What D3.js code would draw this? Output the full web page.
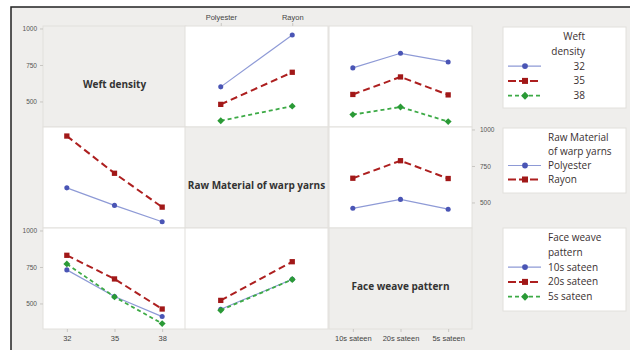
<!DOCTYPE html>
<html>
<head>
<meta charset="utf-8">
<style>
body { margin: 0; background: #fff; }
svg { display: block; font-family: "Open Sans", "Noto Sans", sans-serif; }
.tick-lbl { font-size: 6.5px; fill: #555; }
.cat-lbl { font-size: 7.5px; fill: #444; }
.diag-lbl { font-size: 10px; font-weight: bold; fill: #333; }
.leg-txt { font-size: 10px; fill: #3a3030; }
</style>
</head>
<body>
<svg width="630" height="350"></svg>
<script src="https://d3js.org/d3.v7.min.js"></script>
<script>

// factor levels
var weft = ["32", "35", "38"];
var raw = ["Polyester", "Rayon"];
var weave = ["10s sateen", "20s sateen", "5s sateen"];

// cell means
// weft density x raw material
var polyesterByWeft = [600, 480, 368];
var rayonByWeft = [955, 700, 468];
// weft density x face weave
var sateen10ByWeft = [730, 548, 410];
var sateen20ByWeft = [830, 668, 462];
var sateen5ByWeft = [771, 545, 362];
// raw material x face weave
var polyesterByWeave = [460, 521, 454];
var rayonByWeave = [666, 786, 664];

var yTicks = [500, 750, 1000];

var factors = [
  { name: "Weft density", levels: weft, legend: ["Weft", "density"], alignRight: true },
  { name: "Raw Material of warp yarns", levels: raw, legend: ["Raw Material", "of warp yarns"] },
  { name: "Face weave pattern", levels: weave, legend: ["Face weave", "pattern"] }
];

var weftRaw = weft.map(function(d, i) { return [polyesterByWeft[i], rayonByWeft[i]]; });
var weftWeave = weft.map(function(d, i) { return [sateen10ByWeft[i], sateen20ByWeft[i], sateen5ByWeft[i]]; });
var rawWeave = [polyesterByWeave, rayonByWeave];

function cellMean(fi, a, fj, b) {
  if (fi == 0 && fj == 1) return weftRaw[a][b];
  if (fi == 1 && fj == 0) return weftRaw[b][a];
  if (fi == 0 && fj == 2) return weftWeave[a][b];
  if (fi == 2 && fj == 0) return weftWeave[b][a];
  if (fi == 1 && fj == 2) return rawWeave[a][b];
  return rawWeave[b][a];
}

var styles = [
  { line: "#8e9ad6", width: 1.2, dash: null, fill: "#4a55b5", shape: d3.symbolCircle, size: 20, rot: 0 },
  { line: "#ad1f1f", width: 2, dash: "7,4", fill: "#a11818", shape: d3.symbolSquare, size: 28, rot: 0 },
  { line: "#3daa46", width: 1.8, dash: "4,3", fill: "#2a9a36", shape: d3.symbolSquare, size: 24, rot: 45 }
];

var svg = d3.select("svg");

var colX = [43, 185, 329], colW = 143;
var rowY = [26, 127, 228], rowH = 101;

// frame and background
svg.append("rect")
    .attr("x", 11).attr("y", 7)
    .attr("width", 640).attr("height", 360)
    .attr("fill", "#efeeec")
    .attr("stroke", "#222")
    .attr("stroke-width", 1.5);

factors.forEach(function(fr, i) {
  var y = d3.scaleLinear().domain([325, 1017]).range([rowY[i] + rowH, rowY[i]]);

  factors.forEach(function(fc, j) {
    var x = d3.scalePoint().domain(fc.levels).range([colX[j], colX[j] + colW]).padding(0.5);
    var g = svg.append("g");

    g.append("rect")
        .attr("x", colX[j]).attr("y", rowY[i])
        .attr("width", colW).attr("height", rowH)
        .attr("fill", i == j ? "#efeeec" : "#fff")
        .attr("stroke", "#e2e0dc")
        .attr("stroke-width", 1);

    if (i == j) {
      g.append("text")
          .attr("class", "diag-lbl")
          .attr("x", colX[j] + colW / 2)
          .attr("y", rowY[i] + rowH / 2 + 11)
          .attr("text-anchor", "middle")
          .text(fr.name);
      return;
    }

    var line = d3.line()
        .x(function(d) { return x(d.level); })
        .y(function(d) { return y(d.value); });

    fr.levels.forEach(function(lv, a) {
      var st = styles[a];
      var pts = fc.levels.map(function(cl, b) {
        return { level: cl, value: cellMean(i, a, j, b) };
      });
      g.append("path")
          .datum(pts)
          .attr("d", line)
          .attr("fill", "none")
          .attr("stroke", st.line)
          .attr("stroke-width", st.width)
          .attr("stroke-dasharray", st.dash);
      g.selectAll(null)
          .data(pts)
          .enter().append("path")
          .attr("transform", function(d) { return "translate(" + x(d.level) + "," + y(d.value) + ") rotate(" + st.rot + ")"; })
          .attr("d", d3.symbol().type(st.shape).size(st.size))
          .attr("fill", st.fill);
    });
  });

  // y axes: left for rows 1 and 3, right for row 2
  var ax;
  if (i == 1) {
    ax = svg.append("g").attr("transform", "translate(" + (colX[2] + colW) + ",0)")
        .call(d3.axisRight(y).tickValues(yTicks).tickFormat(d3.format("d")).tickSize(3).tickPadding(5));
  } else {
    ax = svg.append("g").attr("transform", "translate(" + colX[0] + ",0)")
        .call(d3.axisLeft(y).tickValues(yTicks).tickFormat(d3.format("d")).tickSize(3).tickPadding(3));
  }
  ax.select(".domain").remove();
  ax.selectAll("line").attr("stroke", "#c8c6c2");
  ax.selectAll("text").attr("class", "tick-lbl").attr("font-family", null).attr("font-size", null).attr("fill", null);
});

// x axes: top for middle column, bottom for the others
factors.forEach(function(fc, j) {
  var x = d3.scalePoint().domain(fc.levels).range([colX[j], colX[j] + colW]).padding(0.5);
  var ax;
  if (j == 1) {
    ax = svg.append("g").attr("transform", "translate(0," + rowY[0] + ")").call(d3.axisTop(x).tickSize(3).tickPadding(3));
  } else {
    ax = svg.append("g").attr("transform", "translate(0," + (rowY[2] + rowH) + ")").call(d3.axisBottom(x).tickSize(3).tickPadding(4));
  }
  ax.select(".domain").remove();
  ax.selectAll("line").attr("stroke", "#c8c6c2");
  ax.selectAll("text").attr("class", "cat-lbl").attr("font-family", null).attr("font-size", null).attr("fill", null);
});

// legends
var legBoxes = [
  { y: 27, h: 81 },
  { y: 128, h: 65 },
  { y: 228, h: 83 }
];

factors.forEach(function(f, i) {
  var lg = svg.append("g").attr("transform", "translate(503," + legBoxes[i].y + ")");
  lg.append("rect")
      .attr("width", 123).attr("height", legBoxes[i].h)
      .attr("fill", "#fff")
      .attr("stroke", "#e2e0dc");

  var tx = f.alignRight ? 82 : 45;
  var anchor = f.alignRight ? "end" : "start";
  var lines = f.legend.concat(f.levels);
  var step = i == 1 ? 14 : 14.8;

  lines.forEach(function(t, k) {
    lg.append("text")
        .attr("class", "leg-txt")
        .attr("x", tx)
        .attr("y", 13 + k * step)
        .attr("text-anchor", anchor)
        .text(t);
  });

  f.levels.forEach(function(lv, k) {
    var st = styles[k];
    var cy = 13 + (k + 2) * step - 3.5;
    lg.append("line")
        .attr("x1", 5).attr("x2", 38)
        .attr("y1", cy).attr("y2", cy)
        .attr("stroke", st.line)
        .attr("stroke-width", st.width)
        .attr("stroke-dasharray", k == 1 ? "8,3" : st.dash);
    lg.append("path")
        .attr("transform", "translate(22," + cy + ") rotate(" + st.rot + ")")
        .attr("d", d3.symbol().type(st.shape).size(st.size * 1.3))
        .attr("fill", st.fill);
  });
});

</script>
</body>
</html>
